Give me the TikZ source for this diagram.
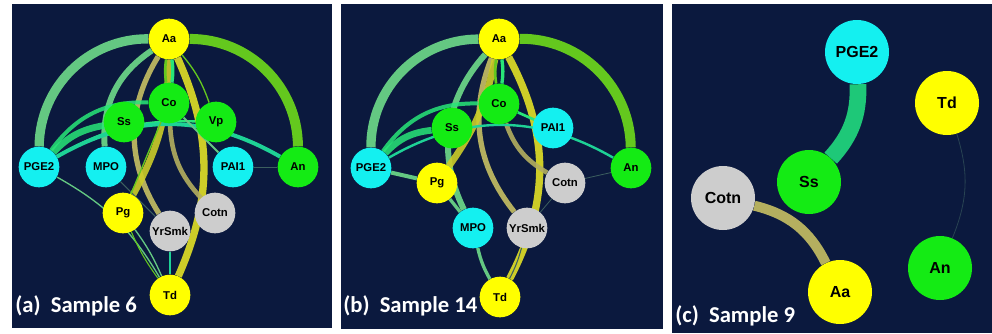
\documentclass[tikz,border=0pt]{standalone}
\usepackage{fontspec}
\setmainfont{Liberation Sans}
\newfontfamily\labfont{Carlito}

\definecolor{navy}{RGB}{11,25,62}
\definecolor{nyel}{RGB}{255,255,0}
\definecolor{ngrn}{RGB}{20,235,20}
\definecolor{ncya}{RGB}{20,240,240}
\definecolor{ngry}{RGB}{205,205,205}
\definecolor{epale}{RGB}{100,200,130}
\definecolor{elime}{RGB}{100,200,30}
\definecolor{eyel}{RGB}{205,205,40}
\definecolor{eolive}{RGB}{180,175,95}
\definecolor{emint}{RGB}{40,230,120}
\definecolor{eteal}{RGB}{30,210,150}
\definecolor{eemer}{RGB}{30,200,120}
\definecolor{edark}{RGB}{60,95,95}

\pgfdeclarelayer{bg}
\pgfdeclarelayer{edges}
\pgfsetlayers{bg,edges,main}

\begin{document}
\begin{tikzpicture}[x=0.75pt,y=-0.75pt,line cap=round,
  nd/.style={circle,minimum size=30.5pt,inner sep=0pt,text=black,
    font=\bfseries\fontsize{8.5}{10}\selectfont},
  big/.style={minimum size=48pt,font=\bfseries\fontsize{12}{14}\selectfont},
  yel/.style={nd,fill=nyel},
  grn/.style={nd,fill=ngrn},
  cya/.style={nd,fill=ncya},
  gry/.style={nd,fill=ngry},
  lab/.style={anchor=base west,text=white,inner sep=0pt,
    font=\labfont\bfseries\fontsize{17}{18}\selectfont}]
\useasboundingbox (0,0) rectangle (992,333);
\begin{pgfonlayer}{bg}
\fill[white] (0,0) rectangle (992,333);
\fill[navy] (12,4) rectangle (332,328);
\fill[navy] (341,4) rectangle (663,329);
\fill[navy] (672,4) rectangle (992,333);
\end{pgfonlayer}

% (a) Sample 6
\node[yel] (aAa) at (169,39) {Aa};
\node[grn] (aCo) at (169,103) {Co};
\node[grn] (aSs) at (124,122) {Ss};
\node[grn] (aVp) at (216,122) {Vp};
\node[cya] (aPGE) at (39,167) {PGE2};
\node[cya] (aMPO) at (106,167) {MPO};
\node[cya] (aPAI) at (233,167) {PAI1};
\node[grn] (aAn) at (298,167) {An};
\node[yel] (aPg) at (123,213) {Pg};
\node[gry] (aYr) at (170,231) {YrSmk};
\node[gry] (aCotn) at (215,213) {Cotn};
\node[yel] (aTd) at (170,295) {Td};
\node[lab] (aLab) at (15,312) {(a)\hspace{0.45em}Sample 6};

\begin{pgfonlayer}{edges}
\draw[epale,line width=7pt] (aAa) to[bend right=45] (aPGE);
\draw[elime,line width=7.5pt] (aAa) to[bend left=45] (aAn);
\draw[epale,line width=4.5pt] (aAa) to[bend right=30] (aMPO);
\draw[eolive,line width=4pt] (aAa) to[bend right=32] (aYr);
\draw[eyel,line width=5.5pt] (aAa) to[bend left=24] (aTd);
\draw[eyel,line width=5pt,opacity=.9] (aPg) to[bend right=14] (aAa);
\draw[eolive,line width=3.5pt,opacity=.9] (aCo) to[bend right=20] (aCotn);
\draw[emint,line width=5pt,opacity=.85] (aPGE) to[bend left=18] (aSs);
\draw[emint,line width=3pt,opacity=.85] (aPGE) to[bend left=28] (aCo);
\draw[emint,line width=1.8pt] (aPGE) to[bend left=16] (aVp);
\draw[eteal,line width=3pt] (aPGE) to[bend left=30] (aAn);
\draw[epale,line width=1pt] (aPGE) to[bend left=15] (aTd);
\draw[edark,line width=.8pt] (aMPO) -- (aYr);
\draw[epale,line width=1pt] (aPg) to[bend left=6] (aTd);
\draw[elime,line width=.8pt] (aPg) to[bend right=6] (aTd);
\draw[eteal,line width=.8pt] (aYr) -- (aTd);
\draw[epale,line width=1.5pt] (aCo) -- (aPAI);
\draw[edark,line width=.6pt] (aPAI) -- (aAn);
\draw[elime,line width=1pt] (aAa) to[bend left=10] (aVp);
\draw[emint,line width=2.5pt] (aAa) to[bend left=8] (aCo);
\draw[elime,line width=2pt] (aAa) to[bend right=8] (aCo);
\draw[elime,line width=1pt] (aCo) -- (aPg);
\end{pgfonlayer}

% (b) Sample 14
\node[yel] (bAa) at (499,39) {Aa};
\node[grn] (bCo) at (499,104) {Co};
\node[grn] (bSs) at (452,128) {Ss};
\node[cya] (bPAI) at (553,128) {PAI1};
\node[cya] (bPGE) at (371,168) {PGE2};
\node[grn] (bAn) at (631,168) {An};
\node[yel] (bPg) at (437,183) {Pg};
\node[gry] (bCotn) at (565,183) {Cotn};
\node[cya] (bMPO) at (473,228) {MPO};
\node[gry] (bYr) at (527,228) {YrSmk};
\node[yel] (bTd) at (500,297) {Td};
\node[lab] (bLab) at (343,312) {(b)\hspace{0.45em}Sample 14};

\begin{pgfonlayer}{edges}
\draw[epale,line width=7pt] (bAa) to[bend right=45] (bPGE);
\draw[elime,line width=7.5pt] (bAa) to[bend left=45] (bAn);
\draw[epale,line width=4.5pt] (bAa) to[bend right=34] (bMPO);
\draw[eolive,line width=4pt] (bAa) to[bend right=30] (bYr);
\draw[eyel,line width=5.5pt] (bAa) to[bend left=28] (bTd);
\draw[eyel,line width=5pt,opacity=.9] (bPg) to[bend right=12] (bAa);
\draw[eolive,line width=3.5pt,opacity=.9] (bCo) to[bend right=20] (bCotn);
\draw[emint,line width=5pt,opacity=.85] (bPGE) to[bend left=20] (bSs);
\draw[emint,line width=3pt,opacity=.85] (bPGE) to[bend left=28] (bCo);
\draw[eteal,line width=1.8pt] (bPGE) to[bend left=30] (bAn);
\draw[epale,line width=3pt] (bPGE) -- (bPg);
\draw[epale,line width=2.5pt] (bPg) -- (bMPO);
\draw[epale,line width=2.5pt] (bMPO) to[bend right=8] (bTd);
\draw[edark,line width=.8pt] (bYr) to[bend left=6] (bTd);
\draw[edark,line width=.6pt] (bCotn) -- (bYr);
\draw[edark,line width=.6pt] (bAn) -- (bCotn);
\draw[emint,line width=2pt] (bCo) -- (bPAI);
\draw[emint,line width=2.5pt] (bAa) to[bend left=8] (bCo);
\draw[elime,line width=2pt] (bAa) to[bend right=8] (bCo);
\end{pgfonlayer}

% (c) Sample 9
\node[cya,big] (cPGE) at (857,52) {PGE2};
\node[yel,big] (cTd) at (947,103) {Td};
\node[grn,big] (cSs) at (809,182) {Ss};
\node[gry,big] (cCotn) at (723,198) {Cotn};
\node[grn,big] (cAn) at (940,268) {An};
\node[yel,big] (cAa) at (840,292) {Aa};
\node[lab] (cLab) at (675,322) {(c)\hspace{0.45em}Sample 9};

\begin{pgfonlayer}{edges}
\draw[eemer,line width=12.5pt,line cap=butt] (cPGE) to[bend left=22] (cSs);
\draw[eolive,line width=7.5pt,line cap=butt] (cCotn) to[bend left=25] (cAa);
\draw[edark!60!navy,line width=.6pt] (cTd) to[bend left=20] (cAn);
\end{pgfonlayer}
\end{tikzpicture}
\end{document}
